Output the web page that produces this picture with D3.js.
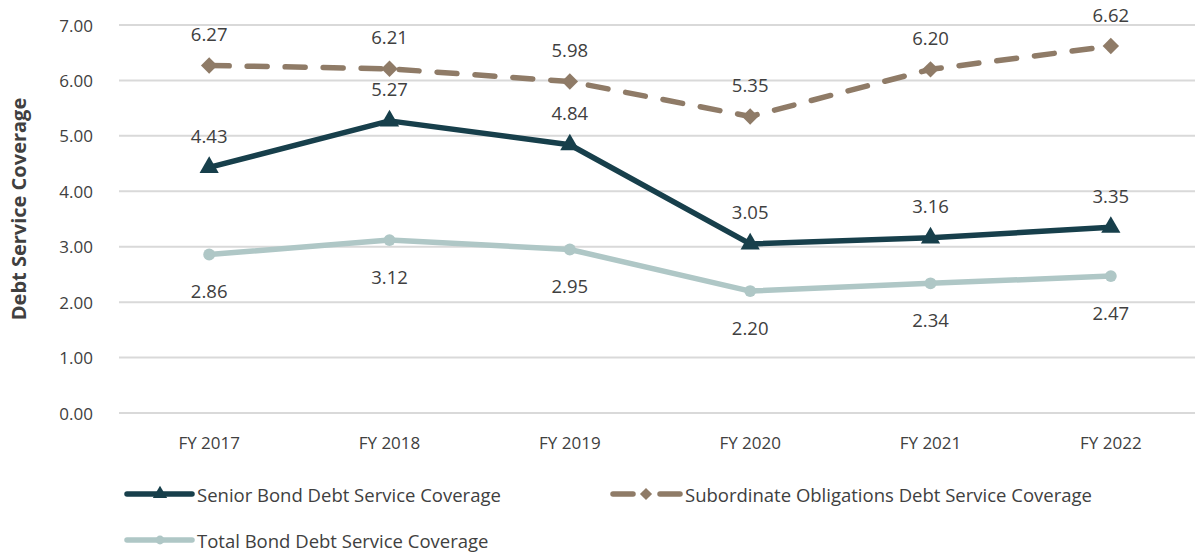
<!DOCTYPE html>
<html>
<head>
<meta charset="utf-8">
<script src="https://cdn.jsdelivr.net/npm/d3@7"></script>
<style>
  body { margin: 0; background: #fff; }
  text { font-family: "Open Sans", "Noto Sans", sans-serif; fill: #404040; }
</style>
</head>
<body>
<div id="plot"></div>
<script>
// data and labels to plot
const years = ["FY 2017", "FY 2018", "FY 2019", "FY 2020", "FY 2021", "FY 2022"];
const senior = [4.43, 5.27, 4.84, 3.05, 3.16, 3.35];
const subordinate = [6.27, 6.21, 5.98, 5.35, 6.20, 6.62];
const total = [2.86, 3.12, 2.95, 2.20, 2.34, 2.47];
const yTicks = [0, 1, 2, 3, 4, 5, 6, 7];

const svg_width = 1195;
const svg_height = 552;
const plot_left = 119, plot_right = 1201, plot_top = 25, plot_bottom = 413;

const svg = d3.select("div#plot")
  .append("svg")
  .attr("width", svg_width)
  .attr("height", svg_height);

const x = d3.scaleBand().domain(years).range([plot_left, plot_right]);
const y = d3.scaleLinear().domain([0, 7]).range([plot_bottom, plot_top]);
const cx = d => x(d) + x.bandwidth() / 2;

// gridlines
svg.append("g")
  .selectAll("line")
  .data(yTicks)
  .enter()
  .append("line")
  .attr("x1", plot_left)
  .attr("x2", svg_width)
  .attr("y1", d => y(d))
  .attr("y2", d => y(d))
  .attr("stroke", "#d9d9d9")
  .attr("stroke-width", 2);

// y axis labels
svg.append("g")
  .selectAll("text")
  .data(yTicks)
  .enter()
  .append("text")
  .attr("x", 93)
  .attr("y", d => y(d))
  .attr("text-anchor", "end")
  .attr("dominant-baseline", "central")
  .style("font-size", "17px")
  .text(d => d.toFixed(2));

// x axis labels
svg.append("g")
  .selectAll("text")
  .data(years)
  .enter()
  .append("text")
  .attr("x", d => cx(d))
  .attr("y", 442)
  .attr("text-anchor", "middle")
  .attr("dominant-baseline", "central")
  .style("font-size", "17px")
  .text(d => d);

// y axis title
svg.append("text")
  .attr("transform", "translate(18," + 209 + ") rotate(-90)")
  .attr("text-anchor", "middle")
  .attr("dominant-baseline", "central")
  .attr("font-weight", 700)
  .style("font-size", "20px")
  .text("Debt Service Coverage");

// square diamond, like the spreadsheet marker
const diamond = {
  draw(ctx, size) {
    const r = Math.sqrt(size / 2);
    ctx.moveTo(0, -r); ctx.lineTo(r, 0); ctx.lineTo(0, r); ctx.lineTo(-r, 0); ctx.closePath();
  }
};

const series = [
  { name: "Senior Bond Debt Service Coverage", values: senior, color: "#173f4b", dash: null, marker: d3.symbolTriangle, size: 160, labelDy: -32 },
  { name: "Subordinate Obligations Debt Service Coverage", values: subordinate, color: "#8f7b67", dash: "20,18", marker: diamond, size: 135, labelDy: -32 },
  { name: "Total Bond Debt Service Coverage", values: total, color: "#afc7c6", dash: null, marker: d3.symbolCircle, size: 110, labelDy: 36 }
];

const line = d3.line()
  .x((d, i) => cx(years[i]))
  .y(d => y(d));

series.forEach(s => {
  const g = svg.append("g");
  g.append("path")
    .datum(s.values)
    .attr("d", line)
    .attr("fill", "none")
    .attr("stroke", s.color)
    .attr("stroke-width", 5.5)
    .attr("stroke-linecap", "round")
    .attr("stroke-linejoin", "round")
    .attr("stroke-dasharray", s.dash);

  g.selectAll("path.m")
    .data(s.values)
    .enter()
    .append("path")
    .attr("class", "m")
    .attr("d", d3.symbol().type(s.marker).size(s.size))
    .attr("transform", (d, i) => "translate(" + cx(years[i]) + "," + y(d) + ")")
    .attr("fill", s.color);

  g.selectAll("text")
    .data(s.values)
    .enter()
    .append("text")
    .attr("x", (d, i) => cx(years[i]))
    .attr("y", d => y(d) + s.labelDy)
    .attr("text-anchor", "middle")
    .attr("dominant-baseline", "central")
    .style("font-size", "18.5px")
    .text(d => d.toFixed(2));
});

// legend
const legendPos = [[127, 494], [613, 494], [127, 540]];
series.forEach((s, i) => {
  const [lx, ly] = legendPos[i];
  const g = svg.append("g").attr("transform", "translate(" + lx + "," + ly + ")");
  if (s.dash) {
    g.append("line").attr("x1", 0).attr("x2", 20).attr("y1", 0).attr("y2", 0)
      .attr("stroke", s.color).attr("stroke-width", 5.5).attr("stroke-linecap", "round");
    g.append("line").attr("x1", 47).attr("x2", 67).attr("y1", 0).attr("y2", 0)
      .attr("stroke", s.color).attr("stroke-width", 5.5).attr("stroke-linecap", "round");
  } else {
    g.append("line").attr("x1", 0).attr("x2", 65).attr("y1", 0).attr("y2", 0)
      .attr("stroke", s.color).attr("stroke-width", 5.5).attr("stroke-linecap", "round");
  }
  g.append("path")
    .attr("d", d3.symbol().type(s.marker).size(s.size * 0.55))
    .attr("transform", "translate(33,0)")
    .attr("fill", s.color);
  g.append("text")
    .attr("x", s.dash ? 72 : 70)
    .attr("y", 0)
    .attr("dominant-baseline", "central")
    .style("font-size", "18.5px")
    .text(s.name);
});
</script>
</body>
</html>
